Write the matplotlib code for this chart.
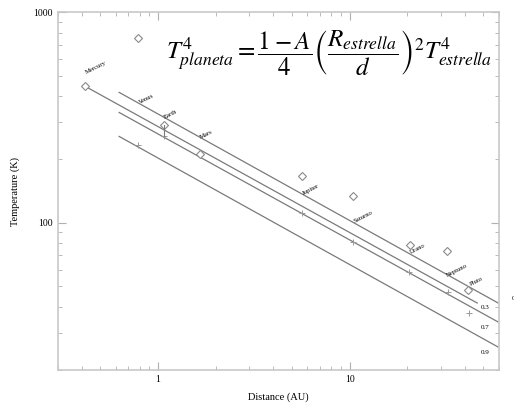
import numpy as np
import matplotlib
matplotlib.use('Agg')
import matplotlib.pyplot as plt

plt.rcParams['font.family'] = ['Liberation Serif', 'DejaVu Serif']
plt.rcParams['mathtext.fontset'] = 'stix'

# albedo model lines (start / end points)
line_albedo = ['0.1', '0.3', '0.7', '0.9']
line_d = [[0.626, 59.7], [0.417, 46.4], [0.626, 59.7], [0.626, 59.7]]
line_T = [[416, 41.6], [444, 41.6], [334, 33.8], [257, 25.7]]

# observed temperatures (diamonds)
obs_d = [0.417, 0.787, 1.075, 1.655, 5.62, 10.4, 20.8, 32.4, 41.7]
obs_T = [444, 751, 290, 211, 166, 134, 78.5, 73.6, 48]

# model points (plus signs)
mod_d = [0.787, 1.075, 5.62, 10.4, 20.5, 32.8, 42.2]
mod_T = [235, 257, 111, 81.2, 58.5, 46.9, 37.3]

planet_names = ['Mercury', 'Venus', 'Earth', 'Mars', 'Jupiter',
                'Saturno', 'Urano', 'Neptuno', 'Pluto']
name_d = [0.475, 0.866, 1.169, 1.778, 6.26, 11.7, 22.6, 36.5, 45.9]
name_T = [547, 389, 327, 262, 143.5, 106.8, 75.2, 59.1, 52.4]

label_d = [70.6, 51.1, 51.1, 51.1]
label_T = [43.5, 39.8, 32.0, 24.3]

gray = '#7a7a7a'
fig = plt.figure(figsize=(5.14, 4.05), dpi=100)
ax = fig.add_axes([0.1128, 0.0864, 0.8572, 0.8836])
ax.set_xscale('log')
ax.set_yscale('log')
ax.set_xlim(0.3, 60)
ax.set_ylim(20, 1000)

for d, T in zip(line_d, line_T):
    ax.plot(d, T, color=gray, lw=0.9)

ax.plot(obs_d, obs_T, linestyle='none', marker='D', ms=4.5, mfc='white',
        mec='#8a8a8a', mew=0.8)
ax.plot(mod_d, mod_T, linestyle='none', marker='+', ms=4, color='#9a9a9a',
        mew=0.7)
# Earth connector
ax.plot([1.075, 1.075], [257, 290], color=gray, lw=0.8)

for name, d, T in zip(planet_names, name_d, name_T):
    ax.text(d, T, name, fontsize=4.8, rotation=27, ha='center', va='center')

for lab, d, T in zip(line_albedo, label_d, label_T):
    t = ax.text(d, T, lab, fontsize=5, ha='center', va='center')
    t.set_clip_on(False)
label_0 = ax.texts[-4]
label_0.set_ha('left')

ax.text(0.985, 0.885, r'$T^{4}_{planeta} = \dfrac{1-A}{4}\left(\dfrac{R_{estrella}}{d}\right)^{2}T^{4}_{estrella}$',
        transform=ax.transAxes, fontsize=18, ha='right', va='center')

ax.set_xticks([1, 10])
ax.set_xticklabels(['1', '10'])
ax.set_yticks([100, 1000])
ax.set_yticklabels(['100', '1000'])
ax.tick_params(which='both', direction='in', top=True, right=True,
               colors='#b0b0b0', labelcolor='black', labelsize=7)
ax.tick_params(which='major', length=6, width=0.8)
ax.tick_params(which='minor', length=3, width=0.6)
for s in ax.spines.values():
    s.set_color('#c8c8c8')
    s.set_linewidth(1.2)

ax.set_xlabel('Distance (AU)', fontsize=7.5, labelpad=6)
ax.set_ylabel('Temperature (K)', fontsize=7.5, labelpad=10)

fig.savefig('out.png', dpi=100)
